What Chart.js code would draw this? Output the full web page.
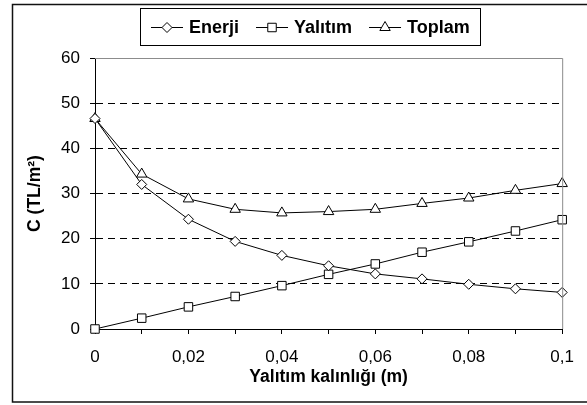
<!DOCTYPE html>
<html>
<head>
<meta charset="utf-8">
<script src="https://cdn.jsdelivr.net/npm/chart.js@4.4.1/dist/chart.umd.min.js"></script>
<style>
  html, body { margin: 0; padding: 0; background: #fff; }
  #wrap { width: 587px; height: 405px; position: relative; }
</style>
</head>
<body>
<div id="wrap"><canvas id="chart"></canvas></div>
<script>
/* ============================================
   DATA
============================================ */
const thickness = [0, 0.01, 0.02, 0.03, 0.04, 0.05, 0.06, 0.07, 0.08, 0.09, 0.1];
const enerji  = [46.6, 32.0, 24.3, 19.4, 16.3, 14.0, 12.2, 11.1, 9.9, 8.9, 8.1];
const yalitim = [0, 2.4, 4.9, 7.2, 9.6, 12.1, 14.4, 17.0, 19.3, 21.7, 24.2];
const toplam  = [46.6, 34.3, 28.8, 26.5, 25.7, 26.0, 26.5, 27.8, 29.0, 30.7, 32.2];
const seriesNames = ['Enerji', 'Yalıtım', 'Toplam'];
const yTicks = [0, 10, 20, 30, 40, 50, 60];

const FONT = "'Liberation Sans', Arial, sans-serif";

function pts(values) {
    return thickness.map((x, i) => ({ x: x, y: values[i] }));
}

function series(label, values, style, radius) {
    return {
        label: label,
        data: pts(values),
        borderColor: '#000',
        borderWidth: 1,
        pointStyle: style,
        pointRadius: radius,
        pointHoverRadius: radius,
        pointBackgroundColor: '#fff',
        pointBorderColor: '#000',
        pointBorderWidth: 1,
        tension: 0,
        clip: false
    };
}

/* ============================================
   FRAME + LEGEND BOX
============================================ */
const framePlugin = {
    id: 'frame',
    afterDraw(chart) {
        const ctx = chart.ctx;
        const a = chart.chartArea;
        ctx.save();
        // plot border (top / right) in gray
        ctx.strokeStyle = '#8c8c8c';
        ctx.lineWidth = 1;
        ctx.beginPath();
        ctx.moveTo(a.left, a.top + 0.5);
        ctx.lineTo(a.right + 0.5, a.top + 0.5);
        ctx.lineTo(a.right + 0.5, a.bottom);
        ctx.stroke();

        // outer chart frame
        ctx.strokeStyle = '#111';
        ctx.lineWidth = 1.5;
        ctx.strokeRect(12.5, 4.5, 600, 397.5);

        // legend
        const y = 27;
        let x = 140;
        ctx.font = 'bold 18px ' + FONT;
        ctx.textBaseline = 'middle';
        ctx.textAlign = 'left';
        const startX = x;
        x += 11;
        let lastEnd = x;
        chart.data.datasets.forEach(ds => {
            ctx.strokeStyle = '#000';
            ctx.lineWidth = 1;
            ctx.beginPath();
            ctx.moveTo(x, y + 0.5);
            ctx.lineTo(x + 32, y + 0.5);
            ctx.stroke();
            ctx.fillStyle = '#fff';
            ctx.strokeStyle = '#000';
            Chart.helpers.drawPoint(ctx, {
                pointStyle: ds.pointStyle,
                radius: ds.pointRadius,
                rotation: 0,
                borderWidth: 1
            }, x + 16, y + 0.5);
            ctx.fillStyle = '#000';
            ctx.fillText(ds.label, x + 38, y + 1);
            lastEnd = x + 38 + ctx.measureText(ds.label).width;
            x = lastEnd + 17;
        });
        ctx.strokeStyle = '#000';
        ctx.lineWidth = 1;
        ctx.strokeRect(startX + 0.5, 8.5, Math.round(lastEnd + 10 - startX), 37);
        ctx.restore();
    }
};

/* ============================================
   CHART
============================================ */
new Chart(document.getElementById('chart').getContext('2d'), {
    type: 'line',
    data: {
        datasets: [
            series(seriesNames[0], enerji, 'rectRot', 5),
            series(seriesNames[1], yalitim, 'rect', 6),
            series(seriesNames[2], toplam, 'triangle', 6)
        ]
    },
    options: {
        responsive: true,
        maintainAspectRatio: false,
        animation: false,
        layout: { padding: { top: 58, right: 24, bottom: 0, left: 0 } },
        plugins: {
            legend: { display: false },
            tooltip: { enabled: false }
        },
        scales: {
            x: {
                type: 'linear',
                min: 0,
                max: 0.1,
                afterFit: s => { s.height = 76; },
                afterBuildTicks: s => {
                    s.ticks = thickness.map(v => ({ value: v }));
                },
                ticks: {
                    autoSkip: false,
                    maxRotation: 0,
                    padding: 13,
                    color: '#000',
                    font: { family: FONT, size: 17 },
                    callback: (v, i) => i % 2 ? '' : String(Number(v.toFixed(2))).replace('.', ',')
                },
                grid: {
                    drawOnChartArea: false,
                    drawTicks: true,
                    tickLength: 5,
                    tickColor: '#000'
                },
                border: { display: true, color: '#000', width: 1 },
                title: {
                    display: true,
                    text: 'Yalıtım kalınlığı (m)',
                    color: '#000',
                    font: { family: FONT, size: 17.5, weight: 'bold' },
                    padding: { top: 0, bottom: 17 }
                }
            },
            y: {
                min: 0,
                max: 60,
                afterFit: s => { s.width = 95; },
                afterBuildTicks: s => {
                    s.ticks = yTicks.map(v => ({ value: v }));
                },
                ticks: {
                    padding: 10,
                    color: '#000',
                    font: { family: FONT, size: 17 }
                },
                grid: {
                    color: c => (c.tick && (c.tick.value === 0 || c.tick.value === 60)) ? 'rgba(0,0,0,0)' : '#000',
                    lineWidth: 1,
                    drawTicks: true,
                    tickLength: 5,
                    tickColor: '#000'
                },
                border: { display: true, color: '#000', width: 1, dash: [7, 5] },
                title: {
                    display: true,
                    text: 'C (TL/m²)',
                    color: '#000',
                    font: { family: FONT, size: 17.5, weight: 'bold' },
                    padding: { top: 25, bottom: 0 }
                }
            }
        }
    },
    plugins: [framePlugin]
});
</script>
</body>
</html>
